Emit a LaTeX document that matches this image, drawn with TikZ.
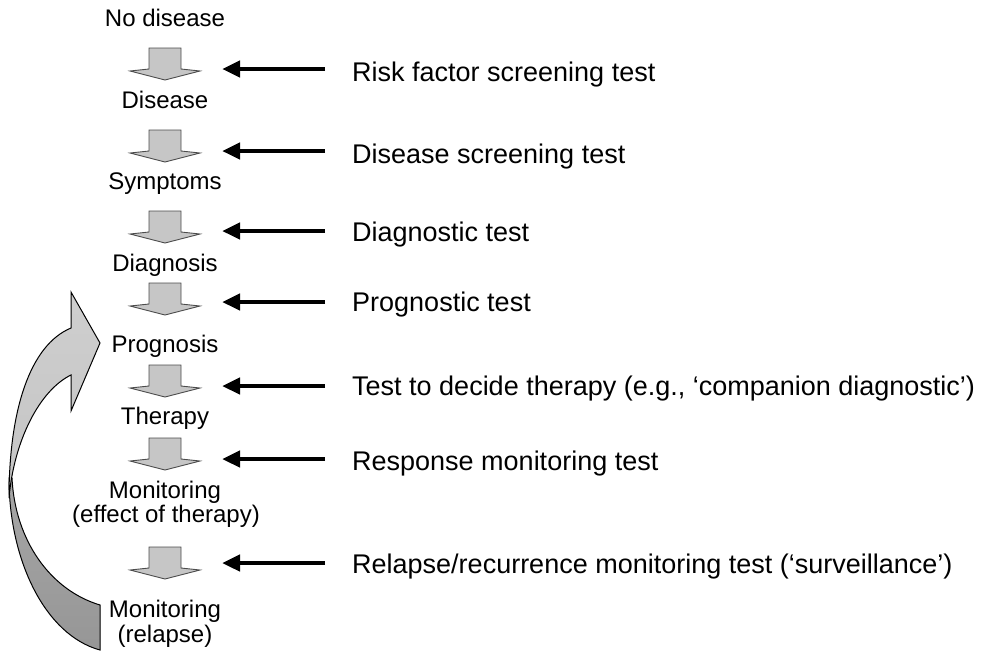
\documentclass[tikz,border=0pt]{standalone}
\usepackage{fontspec}
\setmainfont{Liberation Sans}
\usetikzlibrary{arrows.meta}
\tikzset{
  stage/.style={anchor=base, inner sep=0pt, font=\fontsize{24}{26}\selectfont},
  testlbl/.style={anchor=base west, inner sep=0pt, font=\fontsize{27}{30}\selectfont},
  testarrow/.style={line width=4.5pt, -{Triangle[length=18pt,width=16pt]}},
  dnarrow/.pic={
    \draw[fill=gray!45, draw=black!70, line width=0.9pt, line join=miter]
      (-16,0) -- (16,0) -- (16,21) -- (35,23) -- (0,32) -- (-35,23) -- (-16,21) -- cycle;
  }
}
\begin{document}
\begin{tikzpicture}[x=1pt,y=-1pt]
\useasboundingbox (0,0) rectangle (984,654);
% big return arrow
\shade[top color=gray!70, bottom color=gray!82, draw=black, line width=1pt]
  (9,478) .. controls (9,560) and (45,635) .. (100,650) -- (100,605)
  .. controls (50,590) and (15,540) .. (12,478) -- cycle;
\shade[top color=gray!38, bottom color=gray!46, draw=black, line width=1pt, line join=miter]
  (71,328) .. controls (30,345) and (9,410) .. (9,498)
  .. controls (14,440) and (40,390) .. (71,375) -- (71,411) -- (100,343) -- (71,292) -- cycle;
% down arrows
\pic at (165,48) {dnarrow};
\pic at (165,130) {dnarrow};
\pic at (165,211) {dnarrow};
\pic at (165,283) {dnarrow};
\pic at (165,365) {dnarrow};
\pic at (165,438) {dnarrow};
\pic at (165,547) {dnarrow};
% stage labels
\node[stage] (s0) at (165,26) {No disease};
\node[stage] (s1) at (165,108) {Disease};
\node[stage] (s2) at (165,189) {Symptoms};
\node[stage] (s3) at (165,271) {Diagnosis};
\node[stage] (s4) at (165,352) {Prognosis};
\node[stage] (s5) at (165,424) {Therapy};
\node[stage] (s6) at (165,498) {Monitoring};
\node[stage] (s6b) at (166,522) {(effect of therapy)};
\node[stage] (s7) at (165,617) {Monitoring};
\node[stage] (s7b) at (165,642) {(relapse)};
% test labels
\node[testlbl] (t1) at (352,81) {Risk factor screening test};
\node[testlbl] (t2) at (352,163) {Disease screening test};
\node[testlbl] (t3) at (352,241) {Diagnostic test};
\node[testlbl] (t4) at (352,311) {Prognostic test};
\node[testlbl] (t5) at (352,395) {Test to decide therapy (e.g., ‘companion diagnostic’)};
\node[testlbl] (t6) at (352,470) {Response monitoring test};
\node[testlbl] (t7) at (352,573) {Relapse/recurrence monitoring test (‘surveillance’)};
% connector end points
\foreach \i/\yy in {1/69,2/151,3/231,4/302,5/386,6/459,7/563}{
  \coordinate (a\i) at (325,\yy);
  \coordinate (b\i) at (222,\yy);
}
\foreach \i in {1,...,7}{
  \draw[testarrow] (a\i) -- (b\i);
}
\end{tikzpicture}
\end{document}
